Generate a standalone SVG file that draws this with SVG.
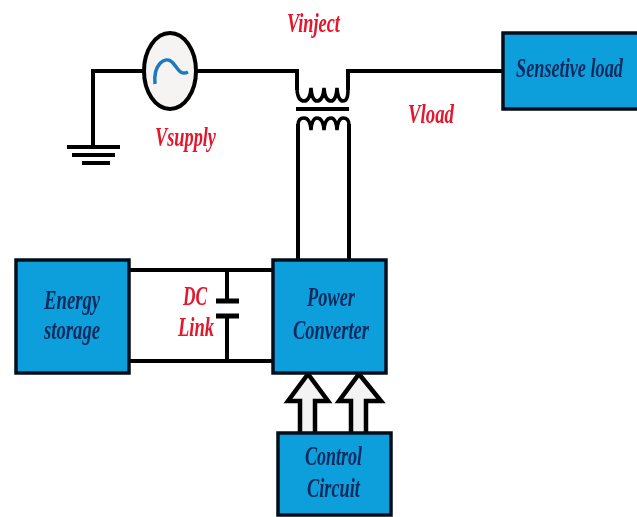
<svg xmlns="http://www.w3.org/2000/svg" width="637" height="517" viewBox="0 0 637 517">
<style>
.w{fill:none;stroke:#000;stroke-width:4}
.t{fill:none;stroke:#000;stroke-width:3.5}
.box{fill:#0f9fdc;stroke:#06101c;stroke-width:3.5}
.ar{fill:#f3f3f3;stroke:#000;stroke-width:4.5}
text{font-family:"Liberation Serif",serif;font-style:italic;font-weight:bold;font-size:27px}
.n{fill:#0a2a5e}
.r{fill:#e3152c}
</style>
<defs><filter id="b" x="-2%" y="-2%" width="104%" height="104%"><feGaussianBlur stdDeviation="0.7"/></filter></defs>
<rect width="637" height="517" fill="#fff"/>
<g filter="url(#b)">
<g id="connectors">
<path class="w" d="M144 71H93V146"/>
<path class="w" d="M197 71H297V90"/>
<path class="w" d="M503 71H348V90"/>
<path class="t" d="M297 90Q298 101 304 101Q310 101 311 88Q312 101 317 101Q323 101 324 88Q325 101 331 101Q336 101 337 88Q338 101 343 101Q348 101 348 90"/>
<path class="t" d="M298 125Q298 118 304 118Q310 118 311 130Q312 118 317 118Q323 118 324 130Q325 118 331 118Q336 118 337 130Q338 118 343 118Q349 118 349 125"/>
<path class="w" d="M298 124V260M349 124V260"/>
<path class="w" d="M296 109H349"/>
<path class="w" d="M129 270H273M129 361H273"/>
<path class="w" d="M227 270V301M227 316V361"/>
<path d="M216 301H239M216 316H239" fill="none" stroke="#000" stroke-width="5"/>
<path class="ar" d="M300 433V401H288L308 374L328 401H315V433"/>
<path class="ar" d="M351 433V401H339L359 374L381 401H366V433"/>
</g>
<g id="ground"><path class="w" d="M67 147H120M72 155H115M82 163H110"/></g>
<g id="source">
<ellipse cx="170" cy="71" rx="26" ry="38" fill="#f6f4f3" stroke="#000" stroke-width="4"/>
<path d="M155 84C153 64 165 56 172 62C178 68 180 76 188 72" fill="none" stroke="#1b79c0" stroke-width="3.5"/>
</g>
<g id="sensitive-load">
<rect class="box" x="503" y="33" width="136" height="76"/>
<text class="n" transform="translate(516 77) scale(.676 1)">Sensetive load</text>
</g>
<g id="energy-storage">
<rect class="box" x="16" y="260" width="113" height="113"/>
<text class="n" transform="translate(44 309) scale(.694 1)">Energy</text>
<text class="n" transform="translate(44 339) scale(.692 1)">storage</text>
</g>
<g id="power-converter">
<rect class="box" x="273" y="260" width="113" height="113"/>
<text class="n" transform="translate(307 306) scale(.68 1)">Power</text>
<text class="n" transform="translate(293 339) scale(.685 1)">Converter</text>
</g>
<g id="control-circuit">
<rect class="box" x="278" y="433" width="113" height="82"/>
<text class="n" transform="translate(305 465) scale(.667 1)">Control</text>
<text class="n" transform="translate(307 497) scale(.679 1)">Circuit</text>
</g>
<g id="labels">
<text class="r" transform="translate(287 32) scale(.679 1)">Vinject</text>
<text class="r" transform="translate(155 146) scale(.678 1)">Vsupply</text>
<text class="r" transform="translate(408 123) scale(.697 1)">Vload</text>
<text class="r" transform="translate(183 305) scale(.64 1)">DC</text>
<text class="r" transform="translate(178 336) scale(.685 1)">Link</text>
</g>
</g>
</svg>
